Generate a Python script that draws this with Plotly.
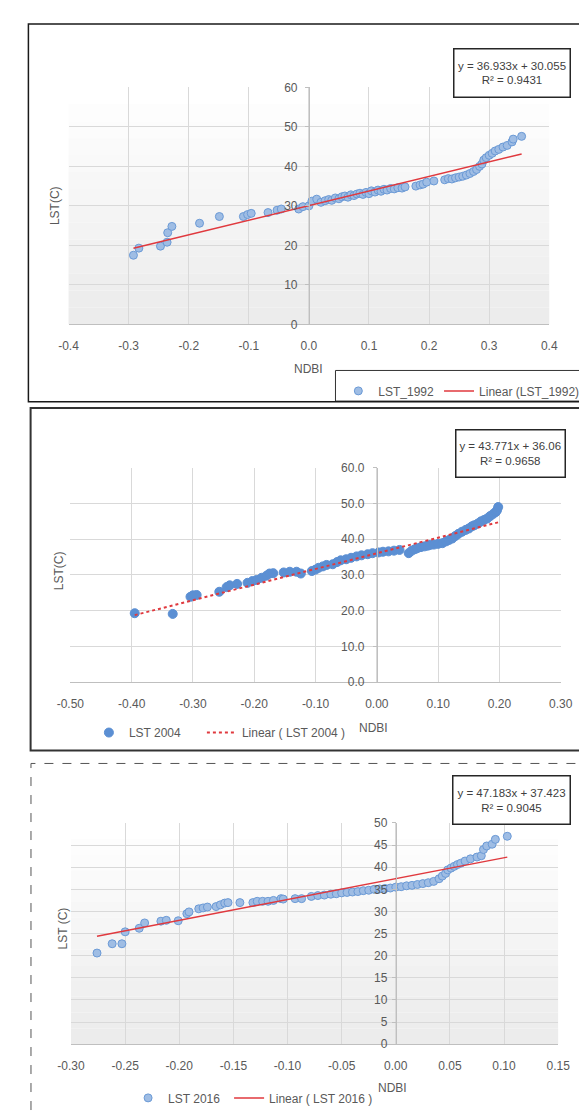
import plotly.graph_objects as go

W, H = 587, 1112

# ---------------- data ----------------
NDBI_1992 = [-0.292, -0.283, -0.247, -0.236, -0.235, -0.228, -0.182, -0.149, -0.109, -0.102,
             -0.096, -0.068, -0.053, -0.046, -0.017, -0.010, 0.000, 0.005, 0.013, 0.020,
             0.027, 0.033, 0.038, 0.044, 0.050, 0.055, 0.060, 0.065, 0.070, 0.075,
             0.080, 0.085, 0.090, 0.095, 0.100, 0.104, 0.110, 0.115, 0.120, 0.125,
             0.130, 0.136, 0.142, 0.148, 0.155, 0.160, 0.178, 0.185, 0.190, 0.196,
             0.208, 0.226, 0.232, 0.238, 0.244, 0.250, 0.256, 0.262, 0.268, 0.274,
             0.279, 0.284, 0.288, 0.291, 0.295, 0.300, 0.305, 0.310, 0.316, 0.323,
             0.330, 0.338, 0.340, 0.354]
LST_1992 = [17.5, 19.3, 19.8, 20.8, 23.2, 24.8, 25.6, 27.3, 27.3, 27.8,
            28.1, 28.3, 28.9, 29.2, 29.2, 29.8, 30.0, 31.2, 31.7, 30.9,
            31.3, 31.6, 31.4, 32.0, 31.8, 32.3, 32.5, 32.2, 32.8, 32.6,
            33.0, 33.2, 32.9, 33.4, 33.1, 33.8, 33.5, 34.0, 33.7, 34.2,
            34.0, 34.4, 34.3, 34.6, 34.5, 34.8, 35.0, 35.3, 35.5, 36.0,
            36.3, 36.6, 36.9, 36.8, 37.1, 37.3, 37.5, 37.8, 38.2, 38.7,
            39.2, 40.0, 40.6, 41.6, 42.2, 42.8, 43.3, 43.9, 44.3, 44.9,
            45.3, 46.2, 46.9, 47.6]
FIT_1992 = [36.933, 30.055]   # slope, intercept
R2_1992 = 0.9431

NDBI_2004 = [-0.395, -0.333, -0.304, -0.300, -0.294, -0.257, -0.245, -0.240, -0.228, -0.211,
             -0.203, -0.196, -0.188, -0.180, -0.175, -0.169, -0.152, -0.142, -0.131, -0.124,
             -0.106, -0.100, -0.095, -0.088, -0.082, -0.072, -0.065, -0.059, -0.050, -0.042,
             -0.033, -0.025, -0.015, -0.007, 0.003, 0.010, 0.019, 0.028, 0.037, 0.052,
             0.057, 0.062, 0.066, 0.072, 0.078, 0.083, 0.087, 0.093, 0.100, 0.107,
             0.113, 0.118, 0.123, 0.128, 0.133, 0.139, 0.145, 0.150, 0.155, 0.159,
             0.165, 0.170, 0.175, 0.180, 0.185, 0.190, 0.194, 0.196, 0.198]
LST_2004 = [19.3, 19.1, 23.9, 24.3, 24.4, 25.3, 26.6, 27.1, 27.5, 27.8,
            28.3, 28.6, 29.2, 29.8, 30.4, 30.5, 30.7, 30.9, 30.9, 30.4,
            31.1, 31.5, 32.0, 32.4, 32.8, 33.0, 33.6, 34.1, 34.4, 34.8,
            35.2, 35.5, 35.8, 36.1, 36.3, 36.5, 36.6, 36.8, 37.0, 36.1,
            36.8, 37.2, 37.5, 37.8, 38.0, 38.2, 38.4, 38.5, 38.7, 38.9,
            39.4, 39.8, 40.2, 40.9, 41.5, 42.1, 42.6, 43.0, 43.6, 43.9,
            44.4, 45.0, 45.4, 45.8, 46.5, 47.1, 47.6, 48.1, 49.0]
FIT_2004 = [43.771, 36.06]
R2_2004 = 0.9658

NDBI_2016 = [-0.276, -0.262, -0.253, -0.250, -0.237, -0.232, -0.217, -0.212, -0.201, -0.193,
             -0.191, -0.182, -0.178, -0.174, -0.166, -0.162, -0.158, -0.155, -0.144, -0.132,
             -0.128, -0.123, -0.118, -0.113, -0.106, -0.104, -0.093, -0.087, -0.078, -0.072,
             -0.066, -0.060, -0.055, -0.050, -0.045, -0.040, -0.035, -0.030, -0.025, -0.020,
             -0.015, -0.010, -0.005, 0.000, 0.005, 0.010, 0.015, 0.020, 0.025, 0.030,
             0.035, 0.040, 0.043, 0.046, 0.048, 0.051, 0.054, 0.057, 0.060, 0.064,
             0.069, 0.075, 0.079, 0.081, 0.084, 0.089, 0.092, 0.103]
LST_2016 = [20.6, 22.7, 22.7, 25.4, 26.2, 27.4, 27.8, 28.0, 27.9, 29.5,
            29.9, 30.6, 30.8, 31.0, 31.1, 31.5, 31.9, 32.0, 32.0, 32.0,
            32.3, 32.3, 32.3, 32.5, 32.9, 32.8, 32.9, 32.9, 33.4, 33.6,
            33.7, 33.9, 34.0, 34.2, 34.3, 34.4, 34.5, 34.7, 34.8, 35.0,
            35.1, 35.2, 35.3, 35.5, 35.6, 35.8, 35.9, 36.1, 36.3, 36.5,
            36.8, 37.4, 38.0, 38.6, 39.4, 39.8, 40.2, 40.6, 40.9, 41.4,
            41.9, 42.3, 42.6, 44.0, 44.8, 45.2, 46.3, 47.0]
FIT_2016 = [47.183, 37.423]
R2_2016 = 0.9045

X_TICKS_1 = [-0.4, -0.3, -0.2, -0.1, 0.0, 0.1, 0.2, 0.3, 0.4]
X_LABELS_1 = ["-0.4", "-0.3", "-0.2", "-0.1", "0.0", "0.1", "0.2", "0.3", "0.4"]
Y_TICKS_1 = [0, 10, 20, 30, 40, 50, 60]
Y_LABELS_1 = ["0", "10", "20", "30", "40", "50", "60"]

X_TICKS_2 = [-0.5, -0.4, -0.3, -0.2, -0.1, 0.0, 0.1, 0.2, 0.3]
X_LABELS_2 = ["-0.50", "-0.40", "-0.30", "-0.20", "-0.10", "0.00", "0.10", "0.20", "0.30"]
Y_TICKS_2 = [0, 10, 20, 30, 40, 50, 60]
Y_LABELS_2 = ["0.0", "10.0", "20.0", "30.0", "40.0", "50.0", "60.0"]

X_TICKS_3 = [-0.30, -0.25, -0.20, -0.15, -0.10, -0.05, 0.00, 0.05, 0.10, 0.15]
X_LABELS_3 = ["-0.30", "-0.25", "-0.20", "-0.15", "-0.10", "-0.05", "0.00", "0.05", "0.10", "0.15"]
Y_TICKS_3 = [0, 5, 10, 15, 20, 25, 30, 35, 40, 45, 50]
Y_LABELS_3 = ["0", "5", "10", "15", "20", "25", "30", "35", "40", "45", "50"]

SERIES_NAMES = ["LST_1992", "LST 2004", "LST 2016"]
TREND_NAMES = ["Linear (LST_1992)", "Linear ( LST 2004 )", "Linear ( LST 2016 )"]
Y_TITLES = ["LST(C)", "LST(C)", "LST (C)"]
X_TITLE = "NDBI"

# ---------------- styling ----------------
FONT = "Liberation Sans, Arial, sans-serif"
TXT = "#595959"
GRID = "#d9d9d9"
AXL = "#bfbfbf"
RED = "#e0393e"


def fx(px):
    return px / W


def fy(py):
    return 1 - py / H


panels = [
    dict(x=NDBI_1992, y=LST_1992, fit=FIT_1992, r2=R2_1992,
         box=(48.7, 551.7, 73.3, 313.3), xr=[-0.4, 0.4], yr=[0, 60],
         xt=X_TICKS_1, xl=X_LABELS_1, yt=Y_TICKS_1, yl=Y_LABELS_1,
         mfill="#9fbde4", mline="#6b9ad6", msize=8, dash="solid",
         eq=(454, 571, 34, 83), ytitle=(34, 193), xtitle=(300, 359),
         standoff_y=5, grad=True,
         leg=dict(x=331, y=366, itemw=None)),
    dict(x=NDBI_2004, y=LST_2004, fit=FIT_2004, r2=R2_2004,
         box=(50.6, 563.7, 458.5, 675.7), xr=[-0.5, 0.3], yr=[0, 60],
         xt=X_TICKS_2, xl=X_LABELS_2, yt=Y_TICKS_2, yl=Y_LABELS_2,
         mfill="#5b8fd3", mline="#5b8fd3", msize=9, dash="dot",
         eq=(456, 565.5, 420, 468), ytitle=(39, 563), xtitle=(368, 722),
         standoff_y=6, grad=False,
         leg=dict(x=70, y=712, itemw=68)),
    dict(x=NDBI_2016, y=LST_2016, fit=FIT_2016, r2=R2_2016,
         box=(51.3, 561.0, 818.3, 1042.3), xr=[-0.3, 0.15], yr=[0, 50],
         xt=X_TICKS_3, xl=X_LABELS_3, yt=Y_TICKS_3, yl=Y_LABELS_3,
         mfill="#9fbde4", mline="#6b9ad6", msize=8, dash="solid",
         eq=(453, 571, 770.7, 820), ytitle=(43, 925), xtitle=(388, 1087),
         standoff_y=2, grad=True,
         leg=dict(x=111, y=1082, itemw=56)),
]

fig = go.Figure()
shapes = []
annotations = []
layout = {}
LEG_FONT = dict(family=FONT, size=12, color=TXT)
TICK_FONT = dict(family=FONT, size=12, color=TXT)

for i, p in enumerate(panels):
    n = "" if i == 0 else str(i + 1)
    xa, ya = "x" + n, "y" + n
    lg = "legend" + n
    x0, x1, y0, y1 = p["box"]
    xr0, xr1 = p["xr"]
    zero_px = x0 + (0 - xr0) / (xr1 - xr0) * (x1 - x0)
    L = p["leg"]

    marker_trace = dict(
        x=p["x"], y=p["y"], mode="markers", name=SERIES_NAMES[i],
        xaxis=xa, yaxis=ya, legend=lg,
        marker=dict(size=p["msize"], color=p["mfill"],
                    line=dict(color=p["mline"], width=1)),
    )
    if L["itemw"]:
        marker_trace["legendwidth"] = L["itemw"]
    fig.add_trace(go.Scatter(**marker_trace))
    xs = [min(p["x"]), max(p["x"])]
    ys = [p["fit"][0] * v + p["fit"][1] for v in xs]
    fig.add_trace(go.Scatter(
        x=xs, y=ys, mode="lines", name=TREND_NAMES[i],
        xaxis=xa, yaxis=ya, legend=lg,
        line=dict(color=RED, width=2 if p["dash"] == "dot" else 1.5, dash=p["dash"]),
    ))

    layout["xaxis" + n] = dict(
        domain=[fx(x0), fx(x1)], range=p["xr"], anchor=ya,
        tickvals=p["xt"], ticktext=p["xl"], showgrid=True, gridcolor=GRID,
        zeroline=False, showline=True, linecolor=AXL, ticks="",
        ticklabelstandoff=10, tickfont=TICK_FONT, fixedrange=True,
    )
    layout["yaxis" + n] = dict(
        domain=[fy(y1), fy(y0)], range=p["yr"], anchor="free",
        position=fx(zero_px),
        tickvals=p["yt"], ticktext=p["yl"], showgrid=True, gridcolor=GRID,
        zeroline=False, showline=True, linecolor=AXL, ticks="outside",
        ticklen=4, tickcolor=AXL, ticklabelstandoff=p["standoff_y"],
        tickfont=TICK_FONT, fixedrange=True,
    )

    if p["grad"]:
        nb = 14
        for k in range(nb):
            g = int(255 - (255 - 236) * (k / (nb - 1)))
            shapes.append(dict(
                type="rect", xref=xa + " domain", yref=ya + " domain",
                x0=0, x1=1, y0=1 - (k + 1) / nb, y1=1 - k / nb,
                fillcolor=f"rgb({g},{g},{g})", line=dict(width=0), layer="below",
            ))
    else:
        shapes.append(dict(
            type="rect", xref=xa + " domain", yref=ya + " domain",
            x0=0, x1=1, y0=0, y1=1, fillcolor="white",
            line=dict(width=0), layer="below",
        ))

    # equation box
    ex0, ex1, ey0, ey1 = p["eq"]
    annotations.append(dict(
        xref="paper", yref="paper", x=fx((ex0 + ex1) / 2), y=fy((ey0 + ey1) / 2),
        xanchor="center", yanchor="middle", showarrow=False,
        text=f"y = {p['fit'][0]}x + {p['fit'][1]}<br>R² = {p['r2']}",
        width=ex1 - ex0 - 4, height=ey1 - ey0 - 4, borderpad=1,
        bordercolor="#262626", borderwidth=1.5, bgcolor="white",
        font=dict(family=FONT, size=11.5, color="#404040"),
    ))
    # axis titles
    tx, ty = p["ytitle"]
    annotations.append(dict(
        xref="paper", yref="paper", x=fx(tx), y=fy(ty), xanchor="center",
        yanchor="middle", showarrow=False, text=Y_TITLES[i], textangle=-90,
        font=dict(family=FONT, size=12, color=TXT),
    ))
    tx, ty = p["xtitle"]
    annotations.append(dict(
        xref="paper", yref="paper", x=fx(tx), y=fy(ty), xanchor="center",
        yanchor="middle", showarrow=False, text=X_TITLE,
        font=dict(family=FONT, size=12, color=TXT),
    ))

    layout[lg] = dict(
        x=fx(L["x"]), y=fy(L["y"]), xanchor="left", yanchor="top",
        orientation="h", bgcolor="rgba(0,0,0,0)", borderwidth=0,
        font=LEG_FONT, itemwidth=30,
    )

# legend box of the first chart
shapes.append(dict(type="rect", xref="paper", yref="paper",
                   x0=fx(328), x1=fx(620), y0=fy(391), y1=fy(360),
                   fillcolor="white", line=dict(color="#333333", width=1),
                   layer="below"))

# panel frames
shapes.append(dict(type="rect", xref="paper", yref="paper",
                   x0=fx(6.7), x1=fx(620), y0=fy(391.7), y1=fy(9),
                   line=dict(color="#1a1a1a", width=1.5)))
shapes.append(dict(type="rect", xref="paper", yref="paper",
                   x0=fx(9), x1=fx(620), y0=fy(745), y1=fy(398),
                   line=dict(color="#333333", width=2)))
shapes.append(dict(type="rect", xref="paper", yref="paper",
                   x0=fx(9.4), x1=fx(620), y0=fy(1130), y1=fy(758),
                   line=dict(color="#555555", width=1, dash="dash")))

fig.update_layout(
    width=W, height=H, margin=dict(l=0, r=0, t=0, b=0),
    paper_bgcolor="white", plot_bgcolor="rgba(0,0,0,0)",
    showlegend=True, shapes=shapes, annotations=annotations,
    font=dict(family=FONT, color=TXT), **layout,
)

fig.write_html("out.html", config=dict(displayModeBar=False))
